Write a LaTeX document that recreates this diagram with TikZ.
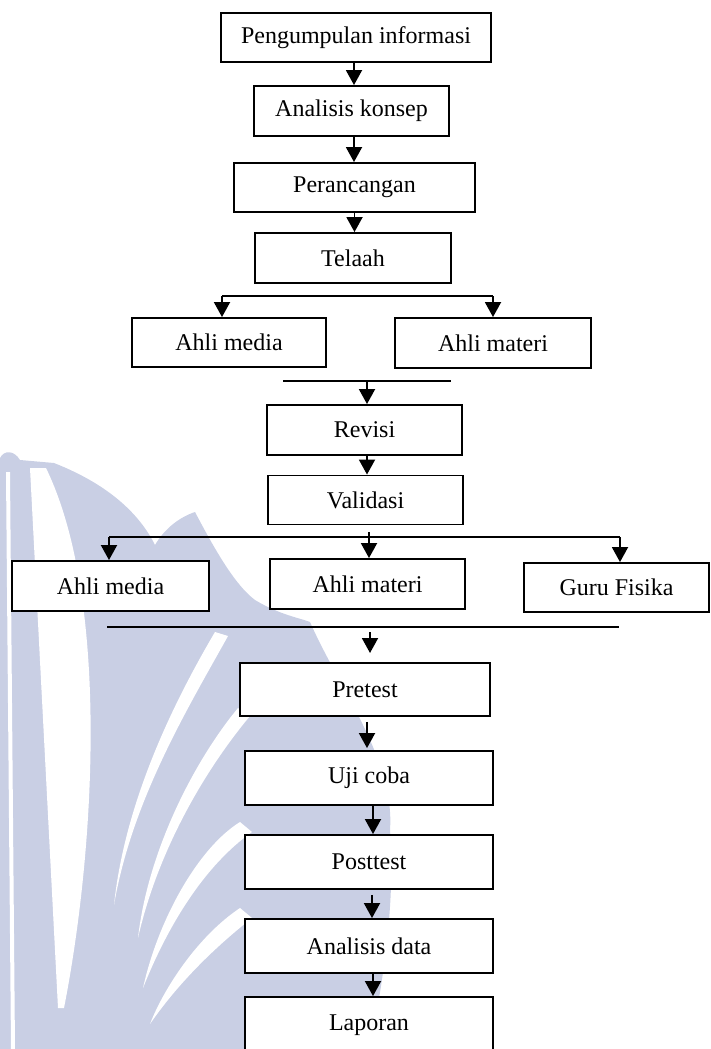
\documentclass[tikz,border=0pt]{standalone}
\usepackage{fontspec}
\setmainfont{Liberation Serif}
\usetikzlibrary{arrows.meta}
\definecolor{wm}{RGB}{201,207,228}
\begin{document}
\begin{tikzpicture}[x=1pt,y=-1pt,
  box/.style={draw, fill=white, line width=1.9pt, inner sep=0pt,
              font=\fontsize{24}{28}\selectfont},
  ln/.style={line width=1.9pt},
  arr/.style={line width=1.9pt,-{Triangle[width=16pt,length=15pt]}}]
\useasboundingbox (0,0) rectangle (711,1049);
\clip (0,0) rectangle (711,1049);
% ---- watermark ----
\fill[wm] (0,1049) -- (0,458) .. controls (4,450) and (14,450) .. (20,460)
  -- (54,463)
  .. controls (110,485) and (140,515) .. (155,545)
  .. controls (165,528) and (180,517) .. (195,512)
  .. controls (215,550) and (235,585) .. (255,600)
  .. controls (280,615) and (300,618) .. (310,622)
  .. controls (340,690) and (395,760) .. (390,830)
  .. controls (395,900) and (385,970) .. (370,1049) -- cycle;
\fill[white] (6,472) -- (10,472) -- (15,1049) -- (11,1049) -- cycle;
\fill[white] (30,468) -- (46,468) .. controls (110,600) and (95,850) .. (64,1008)
  -- (58,1008) -- cycle;
\fill[white] (215,632) .. controls (175,700) and (125,800) .. (114,905)
  .. controls (132,800) and (188,708) .. (228,636) -- cycle;
\fill[white] (238,708) .. controls (195,760) and (148,850) .. (138,938)
  .. controls (158,850) and (205,770) .. (250,716) -- cycle;
\fill[white] (240,822) .. controls (198,848) and (158,920) .. (143,988)
  .. controls (168,925) and (205,865) .. (252,832) -- cycle;
\fill[white] (240,908) .. controls (198,936) and (164,988) .. (150,1024)
  .. controls (172,992) and (205,955) .. (252,918) -- cycle;
% ---- boxes ----
\node[box, minimum width=270pt, minimum height=49pt] (p1) at (356,37.5) {Pengumpulan informasi};
\node[box, minimum width=195pt, minimum height=50pt] (p2) at (351.5,111) {Analisis konsep};
\node[box, minimum width=241pt, minimum height=49pt] (p3) at (354.5,187.5) {Perancangan};
\node[box, minimum width=196pt, minimum height=50pt] (p4) at (353,258) {Telaah};
\node[box, minimum width=194pt, minimum height=49pt] (a1) at (229,342.5) {Ahli media};
\node[box, minimum width=196pt, minimum height=50pt] (a2) at (493,343) {Ahli materi};
\node[box, minimum width=195pt, minimum height=50pt] (rev) at (364.5,430) {Revisi};
\node[box, minimum width=195pt, minimum height=49pt] (val) at (365.5,500) {Validasi};
\node[box, minimum width=197pt, minimum height=50pt] (b1) at (110.5,586) {Ahli media};
\node[box, minimum width=195pt, minimum height=50pt] (b2) at (367.5,584) {Ahli materi};
\node[box, minimum width=185pt, minimum height=49pt] (b3) at (616.5,587.5) {Guru Fisika};
\node[box, minimum width=250pt, minimum height=53pt] (pre) at (365,689.5) {Pretest};
\node[box, minimum width=248pt, minimum height=54pt] (uji) at (369,778) {Uji coba};
\node[box, minimum width=248pt, minimum height=54pt] (post) at (369,862) {Posttest};
\node[box, minimum width=248pt, minimum height=54pt] (ana) at (369,946) {Analisis data};
\node[box, minimum width=248pt, minimum height=56pt] (lap) at (369,1025) {Laporan};
% ---- coordinates ----
\coordinate (t1) at (222,296);
\coordinate (t2) at (493,296);
\coordinate (m1) at (283,381);
\coordinate (m2) at (451,381);
\coordinate (m3) at (367,381);
\coordinate (s1) at (109,537);
\coordinate (s2) at (369,532);
\coordinate (s3) at (620,537);
\coordinate (n1) at (107,627);
\coordinate (n2) at (619,627);
\coordinate (c1) at (370,632);
\coordinate (c2) at (370,653);
% ---- connectors ----
\draw[arr] ([xshift=-2pt]p1.south) -- ([xshift=-2pt]p1.south |- p2.north);
\draw[arr] ([xshift=2.5pt]p2.south) -- ([xshift=2.5pt]p2.south |- p3.north);
\draw[arr] (p3.south) -- (p3.south |- p4.north);
\draw[ln] (t1) -- (t2);
\draw[arr] (t1) -- (t1 |- a1.north);
\draw[arr] (t2) -- (t2 |- a2.north);
\draw[ln] (m1) -- (m2);
\draw[arr] (m3) -- (m3 |- rev.north);
\draw[arr] ([xshift=2.5pt]rev.south) -- ([xshift=2.5pt]rev.south |- val.north);
\draw[ln] (s1) -- (s3);
\draw[arr] (s1) -- (s1 |- b1.north);
\draw[arr] (s2) -- (s2 |- b2.north);
\draw[arr] (s3) -- (s3 |- b3.north);
\draw[ln] (n1) -- (n2);
\draw[arr] (c1) -- (c2);
\draw[arr] ([xshift=2pt,yshift=-5pt]pre.south) -- ([xshift=-2pt,yshift=2pt]uji.north);
\draw[arr] ([xshift=4pt]uji.south) -- ([xshift=4pt]post.north);
\draw[arr] ([xshift=3pt,yshift=-5pt]post.south) -- ([xshift=3pt]ana.north);
\draw[arr] ([xshift=4pt]ana.south) -- ([xshift=4pt]lap.north);
\end{tikzpicture}
\end{document}
